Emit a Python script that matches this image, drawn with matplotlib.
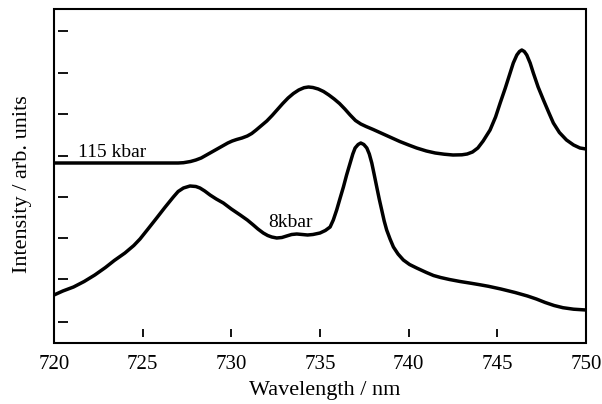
import matplotlib
matplotlib.use("Agg")
import matplotlib.pyplot as plt
from matplotlib.patches import Rectangle

# spectra (intensity in arbitrary units)
wl_115 = [720, 727, 727.3, 727.7, 728.0, 728.3, 728.6, 728.9, 729.2, 729.5, 729.8,
          730.05, 730.3, 730.6, 730.9, 731.15, 731.4, 731.7, 732.0, 732.3, 732.6,
          732.9, 733.2, 733.5, 733.8, 734.1, 734.35, 734.6, 734.9, 735.2, 735.5,
          735.8, 736.1, 736.4, 736.7, 737.0, 737.3, 737.6, 738.0, 738.5, 739.0,
          739.5, 740.0, 740.45, 741.0, 741.5, 742.0, 742.5, 743.0, 743.3, 743.6,
          743.9, 744.2, 744.59, 744.9, 745.16, 745.45, 745.72, 745.9, 746.1,
          746.25, 746.38, 746.52, 746.66, 746.85, 747.03, 747.3, 747.6, 747.9,
          748.16, 748.5, 748.9, 749.3, 749.66, 750]
int_115 = [180, 180, 180.3, 181.5, 183, 185, 188, 191, 194, 197, 200,
           202, 203.5, 205, 207, 209.5, 213, 217.5, 222, 227.5, 233.5,
           239.5, 245, 249.5, 253, 255.3, 256, 255.5, 254, 251.5, 248,
           244, 239.5, 234, 228, 222.5, 219, 216.5, 213.5, 209.5, 205.5,
           201.5, 198, 195, 192, 190, 188.8, 188, 188.2, 189, 191,
           195, 202, 213, 226, 240, 255, 270, 280, 288,
           291.5, 293, 291.5, 288, 280, 270, 256, 243, 230.5,
           220, 210.5, 203, 198, 195, 194]

wl_8 = [720, 720.5, 721.1, 721.7, 722.3, 722.9, 723.4, 724.0, 724.5, 724.85, 725.3,
        725.79, 726.25, 726.73, 727.0, 727.3, 727.67, 728.0, 728.23, 728.5, 728.8,
        729.15, 729.55, 730.0, 730.5, 730.9, 731.24, 731.5, 731.8, 732.05, 732.28,
        732.56, 732.85, 733.12, 733.4, 733.69, 734.0, 734.3, 734.6, 735.0, 735.3,
        735.57, 735.75, 735.94, 736.12, 736.32, 736.5, 736.7, 736.85, 736.98,
        737.15, 737.3, 737.47, 737.64, 737.78, 737.92, 738.05, 738.2, 738.34,
        738.48, 738.62, 738.76, 738.95, 739.14, 739.4, 739.7, 740.05, 740.45,
        741.0, 741.4, 741.8, 742.3, 742.9, 743.5, 744.0, 744.5, 745.2, 746.0,
        746.7, 747.2, 747.7, 748.2, 748.7, 749.3, 750]
int_8 = [48, 52, 56, 61.5, 68, 75.5, 82.5, 90, 97.5, 104, 114,
         125, 135.5, 146, 151.5, 155, 157, 156.5, 155, 152, 148,
         144, 140, 134, 128, 123, 118, 114, 110, 107.5, 106,
         105, 105.5, 107, 108.5, 109, 108.5, 108, 108.5, 110, 112.5,
         116, 123, 133, 144, 156, 168, 180, 189, 195,
         198.5, 200, 198.5, 195, 189, 180, 169, 156, 144,
         133, 122, 113, 104, 96, 89, 83, 78.5, 75,
         70.5, 67.5, 65.5, 63.5, 61.5, 59.8, 58.3, 56.7, 54, 50.5,
         47, 44, 40.5, 37.5, 35.3, 33.8, 33]

x_ticks = [720, 725, 730, 735, 740, 745, 750]
y_ticks = [21, 64, 105, 146, 187, 229, 270, 312]

plt.rcParams["font.family"] = ["Liberation Serif", "DejaVu Serif"]

fig = plt.figure(figsize=(6.02, 4.04), dpi=100)
ax = fig.add_axes([54 / 602, 61 / 404, 532 / 602, 334 / 404])

ax.plot(wl_115, int_115, color="black", lw=2.5, solid_joinstyle="round", solid_capstyle="butt")
ax.plot(wl_8, int_8, color="black", lw=2.5, solid_joinstyle="round", solid_capstyle="butt")

ax.text(721.35, 186, "115 kbar", fontsize=14, ha="left", va="baseline")
ax.text(732.1, 116, "8kbar", fontsize=14, ha="left", va="baseline")

ax.set_xlim(720, 750)
ax.set_ylim(0, 334)
ax.set_xticks(x_ticks)
ax.set_yticks(y_ticks)
ax.set_yticklabels([])

# ticks sit a little off the frame, so move the spines in and draw the frame separately
for side in ["left", "right", "top", "bottom"]:
    ax.spines[side].set_color("none")
ax.spines["left"].set_position(("outward", -3))
ax.spines["bottom"].set_position(("outward", -4))
ax.add_patch(Rectangle((0, 0), 1, 1, transform=ax.transAxes, fill=False,
                       lw=1.5, edgecolor="black", clip_on=False, zorder=5))

ax.tick_params(axis="y", direction="in", length=7, width=1.3, left=True)
ax.tick_params(axis="x", direction="in", length=5.5, width=1.3, pad=12.5, labelsize=15)

ax.set_xlabel("Wavelength / nm", fontsize=16)
ax.set_ylabel("Intensity / arb. units", fontsize=16)
ax.xaxis.set_label_coords(0.508, -0.114)
ax.yaxis.set_label_coords(-0.041, 0.476)

fig.savefig("out.png", dpi=100)
